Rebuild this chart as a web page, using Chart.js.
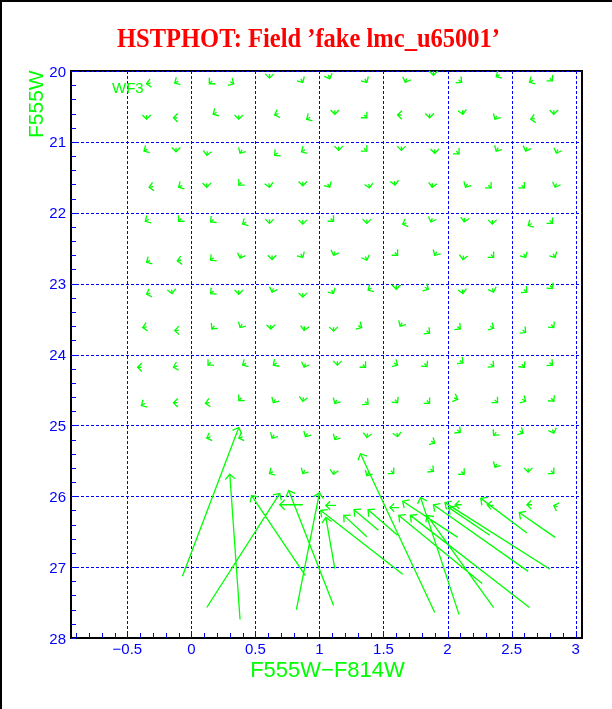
<!DOCTYPE html>
<html><head><meta charset="utf-8">
<script src="https://cdn.jsdelivr.net/npm/chart.js@4.4.1/dist/chart.umd.min.js"></script>
<style>html,body{margin:0;padding:0;background:#fff;}canvas{display:block}</style>
</head><body>
<canvas id="c" width="612" height="709"></canvas>
<script>
const titleText = 'HSTPHOT: Field ’fake lmc_u65001’';
const xTitle = 'F555W−F814W';
const yTitle = 'F555W';
const chipLabel = 'WF3';
const xTickValues = [-0.5, 0, 0.5, 1, 1.5, 2, 2.5, 3];
const xTickLabels = ['−0.5', '0', '0.5', '1', '1.5', '2', '2.5', '3'];
const yTickValues = [20, 21, 22, 23, 24, 25, 26, 27, 28];
const yTickLabels = ['20', '21', '22', '23', '24', '25', '26', '27', '28'];

// Small arrows on the artificial-star grid: head position and (head - tail) step
const gridHeadX = [
  -0.35,-0.13,0.14,0.33,0.61,0.87,1.08,1.37,1.67,1.89,2.11,2.38,2.64,2.82,
  -0.35,-0.14,0.17,0.37,0.65,0.90,1.12,1.37,1.61,1.86,2.12,2.37,2.65,2.83,
  -0.37,-0.12,0.12,0.38,0.65,0.86,1.15,1.37,1.64,1.90,2.09,2.38,2.61,2.85,
  -0.33,-0.10,0.12,0.37,0.61,0.87,1.08,1.39,1.59,1.88,2.14,2.34,2.60,2.84,
  -0.36,-0.10,0.15,0.40,0.61,0.87,1.11,1.37,1.65,1.87,2.13,2.35,2.63,2.82,
  -0.35,-0.11,0.15,0.38,0.63,0.87,1.11,1.37,1.61,1.90,2.12,2.36,2.61,2.84,
  -0.35,-0.15,0.15,0.37,0.63,0.87,1.11,1.38,1.60,1.85,2.12,2.36,2.62,2.82,
  -0.38,-0.13,0.16,0.38,0.62,0.88,1.11,1.33,1.63,1.86,2.10,2.36,2.61,2.83,
  -0.42,-0.14,0.13,0.40,0.64,0.88,1.14,1.36,1.61,1.84,2.12,2.36,2.60,2.82,
  -0.39,-0.14,0.11,0.37,0.64,0.87,1.12,1.38,1.61,1.86,2.08,2.39,2.61,2.83,
  0.12,0.37,0.63,0.89,1.12,1.37,1.61,1.90,2.10,2.36,2.59,2.83,
  0.61,0.87,1.11,1.37,1.58,1.89,2.13,2.37,2.63,2.83
];
const gridHeadY = [
  20.18,20.17,20.18,20.18,20.10,20.16,20.11,20.16,20.16,20.06,20.16,20.08,20.16,20.14,
  20.68,20.66,20.61,20.68,20.62,20.68,20.61,20.66,20.62,20.66,20.61,20.68,20.68,20.61,
  21.13,21.14,21.19,21.16,21.19,21.14,21.12,21.13,21.12,21.16,21.17,21.13,21.13,21.16,
  21.64,21.64,21.64,21.61,21.64,21.62,21.64,21.65,21.61,21.64,21.64,21.65,21.65,21.64,
  22.12,22.12,22.13,22.16,22.15,22.16,22.12,22.15,22.16,22.13,22.13,22.16,22.18,22.15,
  22.70,22.68,22.67,22.64,22.66,22.63,22.60,22.67,22.60,22.60,22.66,22.63,22.63,22.63,
  23.15,23.14,23.14,23.15,23.12,23.19,23.14,23.09,23.08,23.08,23.14,23.12,23.12,23.07,
  23.62,23.66,23.64,23.62,23.64,23.66,23.67,23.62,23.60,23.70,23.64,23.63,23.69,23.62,
  24.18,24.18,24.15,24.15,24.15,24.18,24.15,24.18,24.15,24.17,24.12,24.17,24.18,24.15,
  24.72,24.68,24.69,24.65,24.68,24.66,24.69,24.70,24.68,24.69,24.63,24.68,24.66,24.66,
  25.18,25.18,25.18,25.16,25.20,25.17,25.16,25.25,25.10,25.14,25.11,25.11,
  25.68,25.68,25.69,25.71,25.68,25.65,25.69,25.59,25.66,25.68
];
const gridStepX = [
  -0.031,-0.027,-0.022,0.027,0,0.016,0.011,0.016,-0.011,0,0.024,-0.027,-0.027,0.022,
  0,-0.031,-0.027,0,-0.029,-0.027,0,0.022,-0.031,0,0.005,-0.016,-0.031,0,
  -0.027,0,-0.005,-0.016,-0.024,-0.027,0,0.022,0,0,0.022,-0.016,-0.011,-0.011,
  -0.031,-0.027,0,-0.022,0.005,0,0.016,0.005,0.005,-0.005,-0.016,0.022,0.022,-0.011,
  -0.027,-0.022,-0.024,-0.027,0,0,0.022,0,-0.029,-0.011,-0.005,0,-0.027,0.022,
  -0.027,-0.031,-0.024,-0.011,0,0.016,-0.011,0.011,0.022,-0.016,-0.005,0.022,0.016,0.016,
  -0.029,0.005,-0.024,0,-0.011,0,0.016,-0.027,0,0.027,0.005,0.011,0.024,0.020,
  -0.031,-0.031,-0.020,-0.016,0,-0.005,0,0.027,-0.016,0.024,0.024,0.027,0.024,0.020,
  -0.031,-0.030,-0.022,-0.027,-0.026,-0.011,0,0.022,0.027,0.020,0.024,0.024,0.020,0.024,
  -0.027,-0.031,-0.031,-0.022,-0.016,-0.005,-0.016,0.024,0.020,0.022,0.029,0.022,0.027,0.020,
  -0.029,-0.029,-0.016,-0.016,-0.016,-0.005,0.005,0.027,0.024,-0.020,0.027,0.011,
  -0.027,-0.016,-0.005,-0.016,0.022,0.024,0.022,-0.016,0,0.022
];
const gridStepY = [
  0.010,0.028,0.040,0.028,0.056,0.049,0.053,0.049,0.053,0.056,0.036,0.028,0.028,0.040,
  0.056,0,0.028,0.056,0.019,0.028,0.056,0.040,0,0.056,0.056,0.049,0.010,0.056,
  0.028,0.056,0.056,0.049,0.036,0.028,0.056,0.040,0.056,0.056,0.040,0.049,0.053,0.053,
  0.010,0.028,0.056,0.040,0.056,0.056,0.049,0.056,0.056,0.056,0.049,0.040,0.040,0.053,
  0.028,0.040,0.036,0.028,0.056,0.056,0.040,0.056,0.019,0.053,0.056,0.056,0.028,0.040,
  0.028,0.010,0.036,0.053,0.056,0.049,0.053,0.053,0.040,0.049,0.056,0.040,0.049,0.049,
  0.019,0.056,0.036,0.056,0.053,0.056,0.049,0.028,0.056,0.028,0.056,0.053,0.036,0.043,
  0.010,0,0.043,0.049,0.056,0.056,0.056,0.028,0.049,0.036,0.036,0.028,0.036,0.043,
  0,0.015,0.040,0.028,0.032,0.053,0.056,0.040,0.028,0.043,0.036,0.036,0.043,0.036,
  0.028,0,0.010,0.040,0.049,0.056,0.049,0.036,0.043,0.040,0.019,0.040,0.028,0.043,
  0.019,0.019,0.049,0.049,0.049,0.056,0.056,0.028,0.036,0.043,0.028,0.053,
  0.028,0.049,0.056,0.049,0.040,0.036,0.040,0.049,0.056,0.040
];

// Long arrows of the faint stars: tail (measured) and head positions
const longTailX = [-0.07,0.38,0.12,0.89,0.82,1.11,0.87,1.12,1.65,1.13,1.90,1.37,1.61,1.46,2.08,2.64,2.36,2.09,2.27,2.63,2.80,2.33,2.62,2.84,1.62,2.11,2.36,2.66,2.86];
const longTailY = [27.13,27.74,27.57,27.12,27.60,27.54,26.12,27.02,27.10,26.13,27.64,26.57,26.55,26.48,26.58,27.57,27.57,27.67,27.23,27.06,27.03,26.55,26.52,26.58,26.16,26.12,26.13,26.12,26.15];
const longHeadX = [0.37,0.30,0.69,0.47,1.00,0.76,0.69,1.05,1.01,1.05,1.32,1.19,1.38,1.27,1.65,1.71,1.84,1.79,1.62,1.89,1.98,2.01,2.26,2.56,1.55,2.06,2.31,2.62,2.83];
const longHeadY = [25.03,25.69,25.96,25.99,25.95,25.92,26.12,26.30,26.20,26.13,25.40,26.27,26.19,26.19,26.07,26.27,26.27,26.02,26.27,26.12,26.09,26.16,26.03,26.23,26.16,26.12,26.12,26.12,26.13];

const GREEN = '#00ff00', BLUE = '#0000ff', RED = '#ff0000';
const LINE_W = 1.3;

// Build arrow list (tail -> head)
const arrows = [];
for (let i = 0; i < gridHeadX.length; i++) {
  arrows.push({x0: gridHeadX[i] - gridStepX[i], y0: gridHeadY[i] - gridStepY[i], x1: gridHeadX[i], y1: gridHeadY[i]});
}
for (let i = 0; i < longHeadX.length; i++) {
  arrows.push({x0: longTailX[i], y0: longTailY[i], x1: longHeadX[i], y1: longHeadY[i]});
}
const shaftData = [];
arrows.forEach(a => {
  shaftData.push({x: a.x0, y: a.y0});
  shaftData.push({x: a.x1, y: a.y1});
  shaftData.push({x: a.x1, y: null});
});

function seg(ctx, x0, y0, x1, y1) { ctx.beginPath(); ctx.moveTo(x0, y0); ctx.lineTo(x1, y1); ctx.stroke(); }

const framePlugin = {
  id: 'framePlugin',
  beforeDatasetsDraw(chart) {
    const {ctx, chartArea: a, scales: {x, y}} = chart;
    ctx.save();
    ctx.fillStyle = '#000';
    ctx.fillRect(0, 0, 2, 709);
    ctx.fillRect(0, 0, 612, 2);
    ctx.strokeStyle = '#000'; ctx.lineWidth = 2;
    ctx.strokeRect(a.left, a.top, a.right - a.left, a.bottom - a.top);
    ctx.strokeStyle = BLUE; ctx.lineWidth = 1; ctx.setLineDash([3, 2]);
    xTickValues.forEach(v => {
      const px = Math.round(x.getPixelForValue(v)) + 0.5;
      seg(ctx, px, a.top, px, a.bottom);
    });
    yTickValues.forEach(v => {
      if (v >= 28) return;
      const py = Math.round(y.getPixelForValue(v)) + 0.5;
      seg(ctx, a.left, py, a.right, py);
    });
    ctx.setLineDash([]);
    ctx.strokeStyle = BLUE; ctx.lineWidth = 1;
    for (let i = -9; i <= 30; i++) {
      const px = Math.round(x.getPixelForValue(i / 10)) + 0.5;
      seg(ctx, px, a.bottom, px, a.bottom - 5);
    }
    for (let i = 0; i <= 40; i++) {
      const py = Math.round(y.getPixelForValue(20 + i * 0.2)) + 0.5;
      seg(ctx, a.left, py, a.left + 5, py);
    }
    ctx.restore();
  },
  afterDatasetsDraw(chart) {
    const {ctx, scales: {x, y}} = chart;
    ctx.save();
    ctx.strokeStyle = GREEN; ctx.lineWidth = LINE_W;
    arrows.forEach(ar => {
      const tx = x.getPixelForValue(ar.x0), ty = y.getPixelForValue(ar.y0);
      const hx = x.getPixelForValue(ar.x1), hy = y.getPixelForValue(ar.y1);
      const len = Math.hypot(hx - tx, hy - ty);
      const ang = Math.atan2(hy - ty, hx - tx);
      const hl = len > 12 ? 7 : 6;
      ctx.beginPath();
      ctx.moveTo(hx + hl * Math.cos(ang + Math.PI - Math.PI / 4), hy + hl * Math.sin(ang + Math.PI - Math.PI / 4));
      ctx.lineTo(hx, hy);
      ctx.lineTo(hx + hl * Math.cos(ang + Math.PI + Math.PI / 4), hy + hl * Math.sin(ang + Math.PI + Math.PI / 4));
      ctx.stroke();
    });
    ctx.restore();
  },
  afterDraw(chart) {
    const {ctx, chartArea: a, scales: {x, y}} = chart;
    ctx.save();
    ctx.fillStyle = BLUE;
    ctx.font = '15px "Liberation Sans", Arial, sans-serif';
    ctx.textBaseline = 'alphabetic';
    ctx.textAlign = 'center';
    xTickValues.forEach((v, i) => ctx.fillText(xTickLabels[i], x.getPixelForValue(v), 654));
    ctx.textAlign = 'right';
    yTickValues.forEach((v, i) => ctx.fillText(yTickLabels[i], a.left - 5, y.getPixelForValue(v) + 5.5));
    ctx.fillStyle = GREEN;
    ctx.font = '22px "Liberation Sans", Arial, sans-serif';
    ctx.textAlign = 'center';
    ctx.fillText(xTitle, (a.left + a.right) / 2 + 1, 677);
    ctx.save();
    ctx.font = '21px "Liberation Sans", Arial, sans-serif';
    ctx.translate(43, 138);
    ctx.rotate(-Math.PI / 2);
    ctx.textAlign = 'left';
    ctx.fillText(yTitle, 0, 0);
    ctx.restore();
    ctx.font = '15px "Liberation Sans", Arial, sans-serif';
    ctx.textAlign = 'left';
    ctx.fillText(chipLabel, 112, 93);
    ctx.fillStyle = RED;
    ctx.font = 'bold 28px "Liberation Serif", "Times New Roman", serif';
    const w = ctx.measureText(titleText).width;
    ctx.translate(308.5, 47);
    ctx.scale(383 / w, 1);
    ctx.textAlign = 'center';
    ctx.fillText(titleText, 0, 0);
    ctx.restore();
  }
};

new Chart(document.getElementById('c'), {
  type: 'scatter',
  data: {
    datasets: [{
      label: 'displacement',
      data: shaftData,
      showLine: true,
      spanGaps: false,
      borderColor: GREEN,
      borderWidth: LINE_W,
      pointRadius: 0,
      pointHoverRadius: 0,
      fill: false
    }]
  },
  options: {
    responsive: false,
    animation: false,
    devicePixelRatio: 1,
    layout: {padding: {left: 71, top: 71, right: 30, bottom: 71}},
    scales: {
      x: {type: 'linear', min: -0.94, max: 3.05, display: false},
      y: {type: 'linear', min: 20, max: 28, reverse: true, display: false}
    },
    plugins: {legend: {display: false}, tooltip: {enabled: false}, title: {display: false}},
    events: []
  },
  plugins: [framePlugin]
});
</script>
</body></html>
